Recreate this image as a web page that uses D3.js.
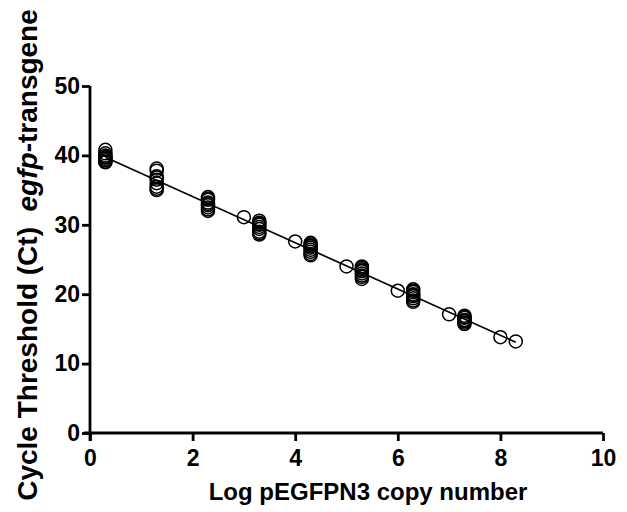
<!DOCTYPE html>
<html>
<head>
<meta charset="utf-8">
<script src="https://cdn.jsdelivr.net/npm/d3@7"></script>
<style>
  html, body { margin: 0; padding: 0; background: #fff; }
  svg { display: block; }
  text { font-family: "Liberation Sans", Arial, sans-serif; font-weight: bold; fill: #000; }
</style>
</head>
<body>
<svg id="chart" width="627" height="512"></svg>
<script>
// Standard curve: Ct vs log copy number of the pEGFPN3 plasmid
const logCopies = [0.3, 1.3, 2.3, 3.3, 4.3, 5.3, 6.3, 7.3];
const replicateCt = [
  [40.8, 40.3, 40.0, 39.8, 39.7, 39.5, 39.3, 39.1, 39.0],
  [38.1, 37.8, 37.0, 36.8, 36.5, 36.0, 35.5, 35.2, 35.0],
  [34.0, 33.8, 33.6, 33.2, 33.0, 32.8, 32.5, 32.2, 32.0],
  [30.6, 30.3, 30.1, 30.0, 29.7, 29.4, 29.0, 28.8, 28.6],
  [27.4, 27.2, 27.0, 26.9, 26.7, 26.4, 26.1, 25.8, 25.6],
  [24.0, 23.8, 23.6, 23.4, 23.3, 23.0, 22.7, 22.5, 22.2],
  [20.7, 20.5, 20.3, 20.0, 19.9, 19.7, 19.4, 19.1, 18.9],
  [16.9, 16.7, 16.6, 16.3, 16.2, 16.1, 15.9, 15.7]
];
const singleLog = [3, 4, 5, 6, 7, 8, 8.3];
const singleCt = [31.1, 27.6, 24.0, 20.5, 17.1, 13.8, 13.2];

const xTicks = [0, 2, 4, 6, 8, 10];
const yTicks = [0, 10, 20, 30, 40, 50];
const xTitle = "Log pEGFPN3 copy number";

const svg = d3.select("#chart");
const x = d3.scaleLinear().domain([0, 10]).range([90, 603]);
const y = d3.scaleLinear().domain([0, 50]).range([433, 86]);

// all points as [log, Ct]
const points = [];
logCopies.forEach((lx, i) => replicateCt[i].forEach(c => points.push([lx, c])));
singleLog.forEach((lx, i) => points.push([lx, singleCt[i]]));

// least-squares fit through every point
const mx = d3.mean(points, d => d[0]);
const my = d3.mean(points, d => d[1]);
const slope = d3.sum(points, d => (d[0] - mx) * (d[1] - my)) / d3.sum(points, d => (d[0] - mx) ** 2);
const intercept = my - slope * mx;
const [xMin, xMax] = d3.extent(points, d => d[0]);

svg.append("line")
  .attr("x1", x(xMin)).attr("y1", y(intercept + slope * xMin))
  .attr("x2", x(xMax)).attr("y2", y(intercept + slope * xMax))
  .attr("stroke", "#000").attr("stroke-width", 1.7);

svg.append("g").selectAll("circle").data(points).join("circle")
  .attr("cx", d => x(d[0])).attr("cy", d => y(d[1]))
  .attr("r", 6.5)
  .attr("fill", "none").attr("stroke", "#000").attr("stroke-width", 1.5);

// axes
const xAxis = svg.append("g").attr("transform", `translate(0,${y(0)})`)
  .call(d3.axisBottom(x).tickValues(xTicks).tickSize(8).tickPadding(9).tickFormat(d3.format("d")));
const yAxis = svg.append("g").attr("transform", `translate(${x(0)},0)`)
  .call(d3.axisLeft(y).tickValues(yTicks).tickSize(8).tickPadding(2).tickFormat(d3.format("d")));

[xAxis, yAxis].forEach(g => {
  g.select(".domain").attr("stroke-width", 2.8).attr("stroke", "#000");
  g.selectAll(".tick line").attr("stroke-width", 2.8).attr("stroke", "#000");
  g.selectAll(".tick text").style("font-size", "23px").style("font-family", "Liberation Sans, Arial, sans-serif").style("font-weight", "bold");
});
xAxis.select(".domain").attr("d", `M${x(0) - 6},0H${x(10)}`);
yAxis.select(".domain").attr("d", `M0,${y(0) + 8}V${y(50)}`);

svg.append("text")
  .attr("x", 368).attr("y", 500)
  .attr("text-anchor", "middle")
  .style("font-size", "24px")
  .text(xTitle);

const yt = svg.append("text")
  .attr("transform", `translate(37,255) rotate(-90)`)
  .attr("text-anchor", "middle")
  .style("font-size", "28px");
yt.append("tspan").text("Cycle Threshold (Ct)\u00a0\u00a0");
yt.append("tspan").style("font-style", "italic").text("egfp");
yt.append("tspan").text("-transgene");
</script>
</body>
</html>
